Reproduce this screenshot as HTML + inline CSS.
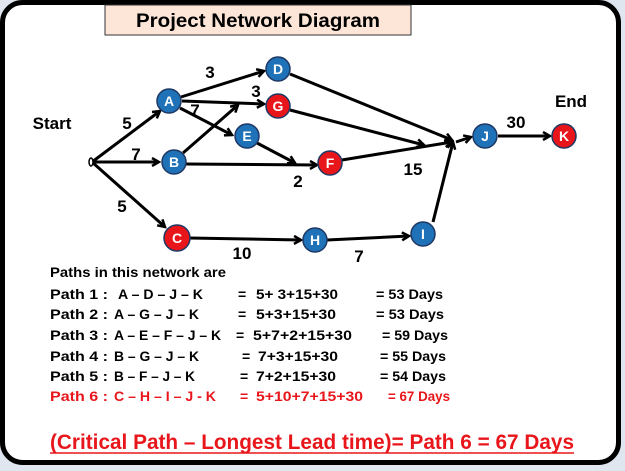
<!DOCTYPE html>
<html><head><style>
html,body{margin:0;padding:0;background:#fff;}
svg{display:block;}
text{font-family:"Liberation Sans",sans-serif;font-weight:bold;}
</style></head><body>
<svg width="625" height="471" viewBox="0 0 625 471" xmlns="http://www.w3.org/2000/svg">
<defs>
<marker id="ar" markerWidth="10" markerHeight="10" refX="8" refY="5" orient="auto" markerUnits="userSpaceOnUse">
<path d="M1,1 L8,5 L1,9" fill="none" stroke="#000" stroke-width="2.5"/>
</marker>
</defs>
<rect x="0" y="0" width="625" height="471" fill="#dfe6ef"/>
<rect x="2.5" y="2.5" width="616" height="460" rx="20" fill="#fff" stroke="#000" stroke-width="5"/>
<rect x="105" y="5" width="306" height="30" fill="#fde6d8" stroke="#333" stroke-width="1"/>
<text x="258" y="27" font-size="19" text-anchor="middle" textLength="244" lengthAdjust="spacingAndGlyphs">Project Network Diagram</text>

<g stroke="#000" stroke-width="3" fill="none" marker-end="url(#ar)">
<line x1="92" y1="162" x2="160" y2="111"/>
<line x1="92" y1="162" x2="159" y2="162"/>
<line x1="92" y1="162" x2="165" y2="227"/>
<line x1="181" y1="97" x2="264" y2="71"/>
<line x1="182" y1="101" x2="264" y2="104"/>
<line x1="180" y1="108" x2="232" y2="135"/>
<line x1="183" y1="153" x2="238" y2="105"/>
<line x1="185" y1="164" x2="317" y2="165"/>
<line x1="257" y1="143" x2="295" y2="163"/>
<line x1="290" y1="74" x2="452" y2="140"/>
<line x1="290" y1="110" x2="424" y2="145"/>
<line x1="342" y1="160" x2="452" y2="142"/>
<line x1="433" y1="222" x2="453" y2="142"/>
<line x1="456" y1="142" x2="471" y2="137"/>
<line x1="498" y1="136" x2="550" y2="136"/>
<line x1="189" y1="238" x2="301" y2="240"/>
<line x1="327" y1="240" x2="409" y2="236"/>
</g>
<ellipse cx="91" cy="162" rx="2" ry="4" fill="#fff" stroke="#000" stroke-width="1.5"/>

<g stroke="#1f3864" stroke-width="1.5">
<circle cx="169" cy="101" r="12" fill="#1f72b8"/>
<circle cx="278" cy="69" r="12" fill="#1f72b8"/>
<circle cx="278" cy="106" r="12" fill="#e8161b"/>
<circle cx="247" cy="136" r="12" fill="#1f72b8"/>
<circle cx="174" cy="162" r="12" fill="#1f72b8"/>
<circle cx="330" cy="163" r="12" fill="#e8161b"/>
<circle cx="485" cy="136" r="12" fill="#1f72b8"/>
<circle cx="564" cy="136" r="12" fill="#e8161b"/>
<circle cx="177" cy="238" r="13" fill="#e8161b"/>
<circle cx="315" cy="240" r="12" fill="#1f72b8"/>
<circle cx="423" cy="234" r="12" fill="#1f72b8"/>
</g>
<g fill="#fff" font-size="14" text-anchor="middle">
<text x="169" y="106">A</text><text x="278" y="74">D</text><text x="278" y="111">G</text>
<text x="247" y="141">E</text><text x="174" y="167">B</text><text x="330" y="168">F</text>
<text x="485" y="141">J</text><text x="564" y="141">K</text><text x="177" y="243">C</text>
<text x="315" y="245">H</text><text x="423" y="239">I</text>
</g>
<g font-size="17" text-anchor="middle" fill="#000">
<text x="52" y="129">Start</text><text x="571" y="107">End</text>
<text x="210" y="78">3</text><text x="256" y="97">3</text><text x="195" y="116">7</text>
<text x="127" y="129">5</text><text x="136" y="160">7</text><text x="122" y="212">5</text>
<text x="298" y="187">2</text><text x="413" y="175">15</text><text x="242" y="259">10</text>
<text x="359" y="262">7</text><text x="516" y="128">30</text>
</g>

<g font-size="14" fill="#000">
<text x="50" y="277" textLength="176" lengthAdjust="spacingAndGlyphs">Paths in this network are</text>
<text x="50" y="299" textLength="58" lengthAdjust="spacingAndGlyphs">Path 1 :</text><text x="118" y="299" textLength="85" lengthAdjust="spacingAndGlyphs">A – D – J – K</text><text x="238" y="299">=</text><text x="256" y="299" textLength="82" lengthAdjust="spacingAndGlyphs">5+ 3+15+30</text><text x="376" y="299" textLength="67" lengthAdjust="spacingAndGlyphs">= 53 Days</text>
<text x="50" y="319" textLength="58" lengthAdjust="spacingAndGlyphs">Path 2 :</text><text x="114" y="319" textLength="85" lengthAdjust="spacingAndGlyphs">A – G – J – K</text><text x="238" y="319">=</text><text x="256" y="319" textLength="80" lengthAdjust="spacingAndGlyphs">5+3+15+30</text><text x="376" y="319" textLength="68" lengthAdjust="spacingAndGlyphs">= 53 Days</text>
<text x="50" y="340" textLength="58" lengthAdjust="spacingAndGlyphs">Path 3 :</text><text x="114" y="340" textLength="107" lengthAdjust="spacingAndGlyphs">A – E – F – J – K</text><text x="236" y="340">=</text><text x="253" y="340" textLength="99" lengthAdjust="spacingAndGlyphs">5+7+2+15+30</text><text x="382" y="340" textLength="66" lengthAdjust="spacingAndGlyphs">= 59 Days</text>
<text x="50" y="361" textLength="58" lengthAdjust="spacingAndGlyphs">Path 4 :</text><text x="114" y="361" textLength="85" lengthAdjust="spacingAndGlyphs">B – G – J – K</text><text x="242" y="361">=</text><text x="258" y="361" textLength="80" lengthAdjust="spacingAndGlyphs">7+3+15+30</text><text x="380" y="361" textLength="66" lengthAdjust="spacingAndGlyphs">= 55 Days</text>
<text x="50" y="381" textLength="58" lengthAdjust="spacingAndGlyphs">Path 5 :</text><text x="114" y="381" textLength="81" lengthAdjust="spacingAndGlyphs">B – F – J – K</text><text x="240" y="381">=</text><text x="256" y="381" textLength="80" lengthAdjust="spacingAndGlyphs">7+2+15+30</text><text x="380" y="381" textLength="66" lengthAdjust="spacingAndGlyphs">= 54 Days</text>
</g>
<g font-size="14" fill="#e8161b">
<text x="50" y="401" textLength="58" lengthAdjust="spacingAndGlyphs">Path 6 :</text><text x="114" y="401" textLength="102" lengthAdjust="spacingAndGlyphs">C – H – I – J - K</text><text x="240" y="401">=</text><text x="256" y="401" textLength="107" lengthAdjust="spacingAndGlyphs">5+10+7+15+30</text><text x="388" y="401" textLength="62" lengthAdjust="spacingAndGlyphs">= 67 Days</text>
</g>
<text x="50" y="449" font-size="21" fill="#e8161b" textLength="524" lengthAdjust="spacingAndGlyphs">(Critical Path – Longest Lead time)= Path 6  = 67 Days</text>
<line x1="50" y1="453" x2="574" y2="453" stroke="#e8161b" stroke-width="1.5"/>
</svg>
</body></html>
